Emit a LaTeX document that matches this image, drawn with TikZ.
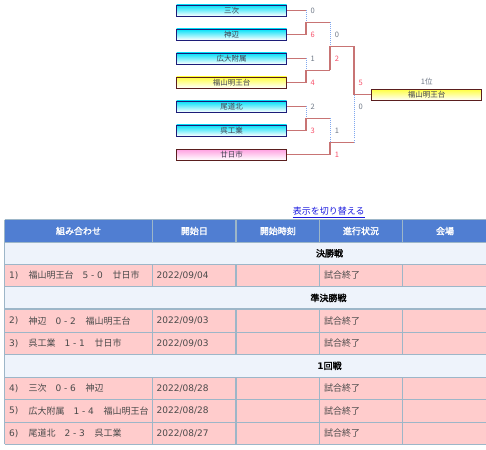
\documentclass[tikz,border=0pt]{standalone}
\usepackage{fontspec}
\setmainfont{Noto Sans CJK JP}[AutoFakeBold=2]
\newfontfamily\lat{DejaVu Sans}
\definecolor{boxcyan}{HTML}{00E0F8}
\definecolor{boxyellow}{HTML}{FFFF40}
\definecolor{boxpink}{HTML}{FF9EE0}
\definecolor{navyline}{HTML}{1C1C78}
\definecolor{brownline}{HTML}{5A1E1E}
\definecolor{boxtext}{HTML}{404050}
\definecolor{winline}{HTML}{C87474}
\definecolor{loseline}{HTML}{80A8F0}
\definecolor{scoregray}{HTML}{707A88}
\definecolor{scorered}{HTML}{F8506A}
\definecolor{headblue}{HTML}{507ED2}
\definecolor{secbg}{HTML}{EEF3FB}
\definecolor{rowpink}{HTML}{FFCCCC}
\definecolor{gridline}{HTML}{9DB6C8}
\definecolor{celltext}{HTML}{4A4A4A}
\definecolor{linkblue}{HTML}{1A1AE0}
\newcommand{\scr}[1]{\makebox[21pt][l]{\lat #1}}
\tikzset{
  teambox/.style={draw, minimum width=110pt, minimum height=11pt, inner sep=0pt,
    font=\fontsize{7.5}{7.5}\selectfont, text=boxtext, line width=0.9pt},
  cyanteam/.style={teambox, draw=navyline, top color=boxcyan, bottom color=white},
  yellowteam/.style={teambox, draw=brownline, top color=boxyellow, bottom color=white},
  pinkteam/.style={teambox, draw=brownline, top color=boxpink, bottom color=white},
  winpath/.style={draw=winline, line width=1.6pt},
  losepath/.style={draw=loseline, line width=1pt, dash pattern=on 1pt off 1pt},
  scorelose/.style={anchor=west, inner sep=0pt, font=\fontsize{7.5}{7.5}\selectfont, text=scoregray},
  scorewin/.style={anchor=west, inner sep=0pt, font=\fontsize{7.5}{7.5}\selectfont, text=scorered},
  headtxt/.style={inner sep=0pt, font=\fontsize{9}{9}\selectfont\bfseries, text=white},
  sectxt/.style={inner sep=0pt, font=\fontsize{9}{9}\selectfont\bfseries, text=black},
  celltxt/.style={anchor=west, inner sep=0pt, font=\fontsize{9}{9}\selectfont, text=celltext},
  grid/.style={draw=gridline, line width=1.1pt}
}
\begin{document}
\begin{tikzpicture}[x=1pt,y=-1pt]
\useasboundingbox (0,0) rectangle (486,449);
\fill[white] (0,0) rectangle (486,449);

% ---------- bracket ----------
\node[cyanteam] (t1) at (231.7,10.5) {三次};
\node[cyanteam] (t2) at (231.7,34.5) {神辺};
\node[cyanteam] (t3) at (231.7,58.5) {広大附属};
\node[yellowteam] (t4) at (231.7,82.5) {福山明王台};
\node[cyanteam] (t5) at (231.7,106.5) {尾道北};
\node[cyanteam] (t6) at (231.7,130.5) {呉工業};
\node[pinkteam] (t7) at (231.7,154.5) {廿日市};
\node[yellowteam] (fin) at (426.7,94.7) {福山明王台};
\node[inner sep=0pt, font=\fontsize{7.5}{7.5}\selectfont, text=scoregray] (rank) at (426.7,82) {1位};

\coordinate (a1) at (306,10.5);
\coordinate (a2) at (306,34.5);
\coordinate (a3) at (306,58.5);
\coordinate (a4) at (306,82.5);
\coordinate (a5) at (306,106.5);
\coordinate (a6) at (306,130.5);
\coordinate (a7) at (330,154.5);
\coordinate (m1) at (306,22.5);
\coordinate (m2) at (306,70.5);
\coordinate (m3) at (306,118.5);
\coordinate (n1) at (330,22.5);
\coordinate (n2) at (330,70.5);
\coordinate (n3) at (330,118.5);
\coordinate (s1) at (330,46.5);
\coordinate (s2) at (330,142.5);
\coordinate (u1) at (354,46.5);
\coordinate (u2) at (354,142.5);
\coordinate (fj) at (354,94.7);

% round 1
\draw[winpath] (t1.east) -- (a1);
\draw[losepath] (a1) -- (m1);
\draw[winpath] (t2.east) -- (a2) -- (m1) -- (n1);
\draw[winpath] (t3.east) -- (a3);
\draw[losepath] (a3) -- (m2);
\draw[winpath] (t4.east) -- (a4) -- (m2) -- (n2);
\draw[winpath] (t5.east) -- (a5);
\draw[losepath] (a5) -- (m3);
\draw[winpath] (t6.east) -- (a6) -- (m3) -- (n3);
% semis
\draw[losepath] (n1) -- (s1);
\draw[winpath] (n2) -- (s1) -- (u1);
\draw[losepath] (n3) -- (s2);
\draw[winpath] (t7.east) -- (a7) -- (s2) -- (u2);
% final
\draw[winpath] (u1) -- (fj) -- (fin.west);
\draw[losepath] (u2) -- (fj);

% scores
\node[scorelose] (c1) at (310.3,10.5) {0};
\node[scorewin]  (c2) at (310.3,34.5) {6};
\node[scorelose] (c3) at (310.3,58.5) {1};
\node[scorewin]  (c4) at (310.3,82.5) {4};
\node[scorelose] (c5) at (310.3,106.5) {2};
\node[scorewin]  (c6) at (310.3,130.5) {3};
\node[scorelose] (d1) at (334.6,34.5) {0};
\node[scorewin]  (d2) at (334.6,58.5) {2};
\node[scorelose] (d3) at (334.6,130.5) {1};
\node[scorewin]  (d4) at (334.6,154.5) {1};
\node[scorewin]  (e1) at (358.3,82.5) {5};
\node[scorelose] (e2) at (358.3,106.5) {0};

% ---------- link ----------
\node[inner sep=0pt, font=\fontsize{9}{9}\selectfont, text=linkblue] (link) at (328.8,211.5) {表示を切り替える};
\draw[linkblue, line width=0.6pt] ([yshift=-1.2pt]link.south west) -- ([yshift=-1.2pt]link.south east);

% ---------- table ----------
\fill[headblue] (4.5,219.5) rectangle (490,242.3);
\fill[secbg] (4.5,242.3) rectangle (490,264.3);
\fill[rowpink] (4.5,264.3) rectangle (490,286.7);
\fill[secbg] (4.5,286.7) rectangle (490,309);
\fill[rowpink] (4.5,309) rectangle (490,354.3);
\fill[secbg] (4.5,354.3) rectangle (490,377.3);
\fill[rowpink] (4.5,377.3) rectangle (490,444.3);

\foreach \yy in {219.5,242.3,264.3,286.7,309,332.3,354.3,377.3,399.3,422.3,444.3}
  \draw[grid] (4.5,\yy) -- (490,\yy);
\draw[grid] (4.5,219.5) -- (4.5,444.3);
\foreach \xx in {152.5,236,319.5,402.5} {
  \draw[grid] (\xx,219.5) -- (\xx,242.3);
  \draw[grid] (\xx,264.3) -- (\xx,286.7);
  \draw[grid] (\xx,309) -- (\xx,354.3);
  \draw[grid] (\xx,377.3) -- (\xx,444.3);
}

\node[headtxt] (h1) at (78.5,231) {組み合わせ};
\node[headtxt] (h2) at (194.3,231) {開始日};
\node[headtxt] (h3) at (277.8,231) {開始時刻};
\node[headtxt] (h4) at (361,231) {進行状況};
\node[headtxt] (h5) at (445,231) {会場};

\node[sectxt] (g1) at (329.5,253.3) {決勝戦};
\node[sectxt] (g2) at (328.5,297.9) {準決勝戦};
\node[sectxt] (g3) at (329.5,365.8) {{\lat 1}回戦};

\node[celltxt] (r1n) at (9,275.5) {\lat 1)};
\node[celltxt] (r2n) at (9,320.6) {\lat 2)};
\node[celltxt] (r3n) at (9,343.3) {\lat 3)};
\node[celltxt] (r4n) at (9,388.3) {\lat 4)};
\node[celltxt] (r5n) at (9,410.8) {\lat 5)};
\node[celltxt] (r6n) at (9,433.3) {\lat 6)};

\node[celltxt] (r1a) at (28.3,275.5) {福山明王台\hspace{9pt}\scr{5 - 0}\hspace{9pt}廿日市};
\node[celltxt] (r2a) at (28.3,320.6) {神辺\hspace{9pt}\scr{0 - 2}\hspace{9pt}福山明王台};
\node[celltxt] (r3a) at (28.3,343.3) {呉工業\hspace{9pt}\scr{1 - 1}\hspace{9pt}廿日市};
\node[celltxt] (r4a) at (28.3,388.3) {三次\hspace{9pt}\scr{0 - 6}\hspace{9pt}神辺};
\node[celltxt] (r5a) at (28.3,410.8) {広大附属\hspace{9pt}\scr{1 - 4}\hspace{9pt}福山明王台};
\node[celltxt] (r6a) at (28.3,433.3) {尾道北\hspace{9pt}\scr{2 - 3}\hspace{9pt}呉工業};

\node[celltxt] (r1b) at (156.5,275.5) {\lat 2022/09/04};
\node[celltxt] (r2b) at (156.5,320.6) {\lat 2022/09/03};
\node[celltxt] (r3b) at (156.5,343.3) {\lat 2022/09/03};
\node[celltxt] (r4b) at (156.5,388.3) {\lat 2022/08/28};
\node[celltxt] (r5b) at (156.5,410.8) {\lat 2022/08/28};
\node[celltxt] (r6b) at (156.5,433.3) {\lat 2022/08/27};

\node[celltxt] (r1c) at (324,275.5) {試合終了};
\node[celltxt] (r2c) at (324,320.6) {試合終了};
\node[celltxt] (r3c) at (324,343.3) {試合終了};
\node[celltxt] (r4c) at (324,388.3) {試合終了};
\node[celltxt] (r5c) at (324,410.8) {試合終了};
\node[celltxt] (r6c) at (324,433.3) {試合終了};
\end{tikzpicture}
\end{document}
